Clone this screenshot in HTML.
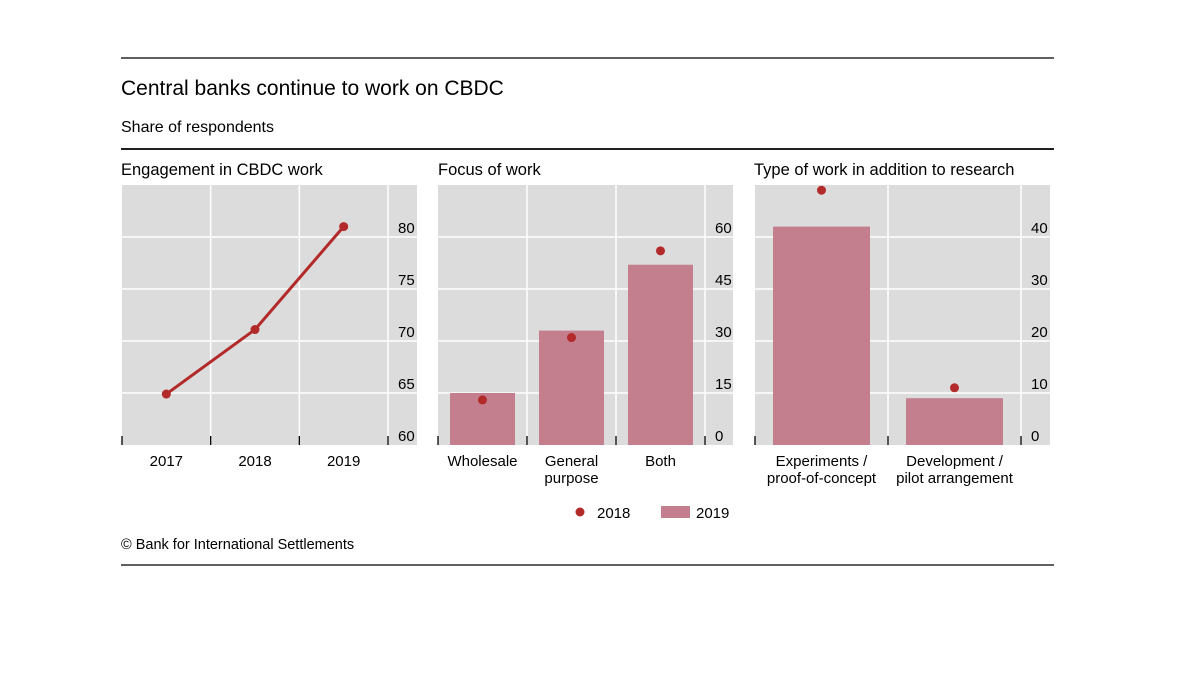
<!DOCTYPE html>
<html><head><meta charset="utf-8">
<style>
body{margin:0;background:#fff;}
svg{display:block;font-family:"Liberation Sans",sans-serif;}
</style></head>
<body>
<svg id="c" width="1200" height="674">
<line x1="121" y1="58" x2="1054" y2="58" stroke="#000" stroke-width="1.2"/>
<text x="121" y="95" font-size="21">Central banks continue to work on CBDC</text>
<text x="121" y="132" font-size="16">Share of respondents</text>
<line x1="121" y1="149" x2="1054" y2="149" stroke="#000" stroke-width="1.8"/>
<text x="121" y="175" font-size="16.5">Engagement in CBDC work</text>
<text x="438" y="175" font-size="16.5">Focus of work</text>
<text x="754" y="175" font-size="16.5">Type of work in addition to research</text>
<g id="p1"></g><g id="p2"></g><g id="p3"></g>
<circle cx="580" cy="512" r="4.5" fill="#b22a2a"/>
<text x="597" y="518" font-size="15">2018</text>
<rect x="661" y="506" width="29" height="12" fill="#c47f8f"/>
<text x="696" y="518" font-size="15">2019</text>
<text x="121" y="549" font-size="14.5">© Bank for International Settlements</text>
<line x1="121" y1="565" x2="1054" y2="565" stroke="#000" stroke-width="1.2"/>
</svg>
<script>
const p1Categories=["2017","2018","2019"];
const p1Values=[64.9,71.1,81.0];
const p1Ticks=[60,65,70,75,80];
const p2Categories=[["Wholesale"],["General","purpose"],["Both"]];
const p2Bars2019=[15,33,52];
const p2Dots2018=[13,31,56];
const p2Ticks=[0,15,30,45,60];
const p3Categories=[["Experiments /","proof-of-concept"],["Development /","pilot arrangement"]];
const p3Bars2019=[42,9];
const p3Dots2018=[49,11];
const p3Ticks=[0,10,20,30,40];
const NS="http://www.w3.org/2000/svg";
function mk(parent,tag,attrs){const e=document.createElementNS(NS,tag);for(const k in attrs)e.setAttribute(k,attrs[k]);parent.appendChild(e);return e;}
const TOP=185,BOT=445;
function frame(g,x0,sep,x1,ticks,ymin,ymax,n,name){
  const bg=mk(g,"rect",{x:x0,y:TOP,width:x1-x0,height:BOT-TOP,fill:"#dcdcdc"});
  
  
  const y=v=>BOT-(v-ymin)/(ymax-ymin)*(BOT-237);
  ticks.forEach(t=>{
    const yy=y(t);
    if(t!==ymin){const l=mk(g,"line",{x1:x0,x2:x1,y1:yy,y2:yy,stroke:"#fff","stroke-width":1.5});
      
      }
    const tx=mk(g,"text",{x:sep+10,y:yy-4,"font-size":15});tx.textContent=t;
    
    
  });
  const w=(sep-x0)/n;
  for(let i=0;i<=n;i++){
    const xx=x0+i*w;
    if(i>0){const l=mk(g,"line",{x1:xx,x2:xx,y1:TOP,y2:BOT,stroke:"#fff","stroke-width":1.5});
      
      }
    const tk=mk(g,"line",{x1:xx,x2:xx,y1:BOT-9,y2:BOT,stroke:"#000","stroke-width":1.3});
    
    
  }
  return {y,cx:i=>x0+w*(i+0.5),w};
}
function labels(g,f,cats,name){
  cats.forEach((c,i)=>{
    const lines=Array.isArray(c)?c:[c];
    lines.forEach((s,j)=>{
      const t=mk(g,"text",{x:f.cx(i),y:466+j*17,"font-size":15,"text-anchor":"middle"});t.textContent=s;
      
      
    });
  });
}
// panel 1
(function(){
  const g=document.getElementById("p1");
  const f=frame(g,122,388,417,p1Ticks,60,80,3,"engagement");
  const pts=p1Values.map((v,i)=>f.cx(i)+","+f.y(v)).join(" ");
  const pl=mk(g,"polyline",{points:pts,fill:"none",stroke:"#b22a2a","stroke-width":3});
  
  
  p1Values.forEach((v,i)=>{const c=mk(g,"circle",{cx:f.cx(i),cy:f.y(v),r:4.5,fill:"#b22a2a"});
    
    });
  labels(g,f,p1Categories,"engagement");
})();
function barPanel(id,x0,sep,x1,ticks,ymax,cats,bars,dots,name,bw){
  const g=document.getElementById(id);
  const f=frame(g,x0,sep,x1,ticks,0,ymax,cats.length,name);
  bars.forEach((v,i)=>{const r=mk(g,"rect",{x:f.cx(i)-bw/2,y:f.y(v),width:bw,height:BOT-f.y(v),fill:"#c47f8f"});
    
    });
  dots.forEach((v,i)=>{const c=mk(g,"circle",{cx:f.cx(i),cy:f.y(v),r:4.5,fill:"#b22a2a"});
    
    });
  labels(g,f,cats,name);
}
barPanel("p2",438,705,733,p2Ticks,60,p2Categories,p2Bars2019,p2Dots2018,"focus",65);
barPanel("p3",755,1021,1050,p3Ticks,40,p3Categories,p3Bars2019,p3Dots2018,"type-of-work",97);
</script>
</body></html>
